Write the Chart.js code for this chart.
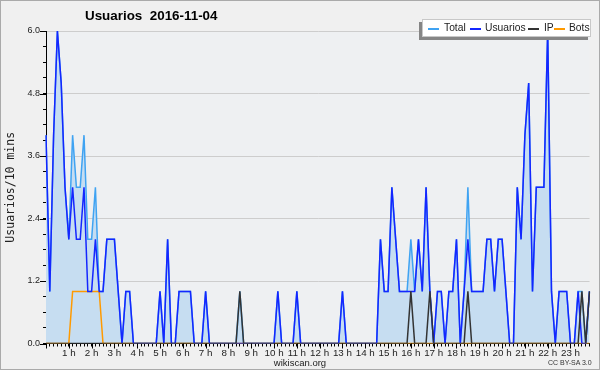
<!DOCTYPE html>
<html><head><meta charset="utf-8">
<script src="https://cdn.jsdelivr.net/npm/chart.js@4.4.0/dist/chart.umd.min.js"></script>
<style>
html,body{margin:0;padding:0;background:#f0f0f0;}
#wrap{position:relative;width:600px;height:370px;overflow:hidden;background:#f0f0f0;}
#frame{position:absolute;left:0;top:0;width:600px;height:370px;box-sizing:border-box;border:1px solid #aaaaaa;pointer-events:none;}
#title{position:absolute;left:85px;top:8px;font:bold 13.4px "Liberation Sans",Arial,sans-serif;white-space:pre;color:#000;}
#legend{position:absolute;left:422px;top:19px;width:167px;height:16px;background:#fff;border:1px solid #c8c8c8;box-shadow:-3px 3px 0 #858585;font:10.3px "Liberation Sans",Arial,sans-serif;color:#222;}
#legend .ln{position:absolute;top:8px;height:1.5px;width:11px;}
#legend .tx{position:absolute;top:1px;line-height:14px;}
#foot{position:absolute;left:0;width:600px;top:357px;text-align:center;font:9.5px "Liberation Sans",Arial,sans-serif;color:#222;}
#cc{position:absolute;left:548px;top:359px;font:7px "Liberation Sans",Arial,sans-serif;color:#333;}
</style>
</head><body>
<div id="wrap">
<canvas id="c" width="600" height="370"></canvas>
<div id="title">Usuarios  2016-11-04</div>
<div id="legend"></div>
<div id="foot">wikiscan.org</div>
<div id="cc">CC BY-SA 3.0</div>
<div id="frame"></div>
</div>
<script>
// 10-minute slots for 2016-11-04 (144 values per series)
const usuarios = [
 4,1,4,6,5,3,2,3,2,2, 3,1,1,2,1,1,2,2,2,1, 0,1,1,0,0,0,0,0,0,0,
 1,0,2,0,0,1,1,1,1,0, 0,0,1,0,0,0,0,0,0,0, 0,0,0,0,0,0,0,0,0,0,
 0,1,0,0,0,0,1,0,0,0, 0,0,0,0,0,0,0,0,1,0, 0,0,0,0,0,0,0,0,2,1,
 1,3,2,1,1,1,1,1,2,1, 3,1,0,1,1,0,1,1,2,0, 1,2,1,1,1,1,2,2,1,2,
 2,1,0,0,3,2,4,5,1,3, 3,3,6,1,0,1,1,1,0,0, 1,0,0,1
];
const total = [
 4,1,4,6,5,3,2,4,3,3, 4,2,2,3,1,1,2,2,2,1, 0,1,1,0,0,0,0,0,0,0,
 1,0,2,0,0,1,1,1,1,0, 0,0,1,0,0,0,0,0,0,0, 0,1,0,0,0,0,0,0,0,0,
 0,1,0,0,0,0,1,0,0,0, 0,0,0,0,0,0,0,0,1,0, 0,0,0,0,0,0,0,0,2,1,
 1,3,2,1,1,1,2,1,2,1, 3,1,0,1,1,0,1,1,2,0, 1,3,1,1,1,1,2,2,1,2,
 2,1,0,0,3,2,4,5,1,3, 3,3,6,1,0,1,1,1,0,0, 1,1,0,1
];
const ip = [
 0,0,0,0,0,0,0,0,0,0, 0,0,0,0,0,0,0,0,0,0, 0,0,0,0,0,0,0,0,0,0,
 0,0,0,0,0,0,0,0,0,0, 0,0,0,0,0,0,0,0,0,0, 0,1,0,0,0,0,0,0,0,0,
 0,0,0,0,0,0,0,0,0,0, 0,0,0,0,0,0,0,0,0,0, 0,0,0,0,0,0,0,0,0,0,
 0,0,0,0,0,0,1,0,0,0, 0,1,0,0,0,0,0,0,0,0, 0,1,0,0,0,0,0,0,0,0,
 0,0,0,0,0,0,0,0,0,0, 0,0,0,0,0,0,0,0,0,0, 0,1,0,1
];
const bots = [
 0,0,0,0,0,0,0,1,1,1, 1,1,1,1,1,0,0,0,0,0, 0,0,0,0,0,0,0,0,0,0,
 0,0,0,0,0,0,0,0,0,0, 0,0,0,0,0,0,0,0,0,0, 0,0,0,0,0,0,0,0,0,0,
 0,0,0,0,0,0,0,0,0,0, 0,0,0,0,0,0,0,0,0,0, 0,0,0,0,0,0,0,0,0,0,
 0,0,0,0,0,0,0,0,0,0, 0,0,0,0,0,0,0,0,0,0, 0,0,0,0,0,0,0,0,0,0,
 0,0,0,0,0,0,0,0,0,0, 0,0,0,0,0,0,0,0,0,0, 0,0,0,0
];
const hourTickLabels = ['1 h','2 h','3 h','4 h','5 h','6 h','7 h','8 h','9 h','10 h','11 h','12 h',
  '13 h','14 h','15 h','16 h','17 h','18 h','19 h','20 h','21 h','22 h','23 h'];
const yMajorTicks = [0, 1.2, 2.4, 3.6, 4.8, 6.0];
const seriesNames = ['Total','Usuarios','IP','Bots'];
const seriesColors = ['#3fa3f2','#1426ff','#333333','#ff9a00'];

// slot categories (00:00 ... 23:50)
const slots = usuarios.map((_, i) => String(Math.floor(i/6)).padStart(2,'0') + ':' + String((i%6)*10).padStart(2,'0'));

// legend (HTML)
const legendPos = [[5,21],[47,62],[105,121],[131,146]];
const lg = document.getElementById('legend');
seriesNames.forEach((n, k) => {
  const l = document.createElement('div'); l.className='ln'; l.style.left=legendPos[k][0]+'px'; l.style.background=seriesColors[k]; lg.appendChild(l);
  const t = document.createElement('div'); t.className='tx'; t.style.left=legendPos[k][1]+'px'; t.textContent=n; lg.appendChild(t);
});

const isMajorY = v => Math.round(v*10) % 12 === 0;

const bgPlugin = {
  id:'plotBg',
  beforeDraw(chart){
    const {ctx, chartArea:a} = chart;
    ctx.save(); ctx.fillStyle='#eef0f2'; ctx.fillRect(a.left, a.top, a.right-a.left, a.bottom-a.top); ctx.restore();
  }
};
const tickPlugin = {
  id:'majorTicks',
  afterDraw(chart){
    const ctx = chart.ctx, xs = chart.scales.x, ys = chart.scales.y;
    ctx.save(); ctx.strokeStyle='#000'; ctx.lineWidth=1; ctx.beginPath();
    for (let i = 0; i < slots.length; i += 6) {
      const px = Math.round(xs.getPixelForValue(i)) + 0.5;
      ctx.moveTo(px, xs.top); ctx.lineTo(px, xs.top + 5);
    }
    yMajorTicks.forEach(v => {
      const py = Math.round(ys.getPixelForValue(v)) + 0.5;
      ctx.moveTo(ys.right - 6, py); ctx.lineTo(ys.right, py);
    });
    ctx.stroke(); ctx.restore();
  }
};

const mk = (k, data, order, extra) => Object.assign({
  label: seriesNames[k], data, borderColor: seriesColors[k], borderWidth: 1.5,
  pointRadius: 0, tension: 0, fill: false, order
}, extra || {});

new Chart(document.getElementById('c'), {
  type: 'line',
  data: {
    labels: slots,
    datasets: [
      mk(0, total, 3, {fill:'origin', backgroundColor:'#c6ddf1'}),
      mk(1, usuarios, 1),
      mk(2, ip, 0),
      mk(3, bots, 2)
    ]
  },
  options: {
    responsive: false, animation: false, devicePixelRatio: 1,
    layout: {padding: {top: 31, right: 10.5, left: 0, bottom: 0}},
    plugins: {legend: {display: false}, title: {display: false}, tooltip: {enabled: false}},
    scales: {
      x: {
        type: 'category', offset: false, z: 1,
        grid: {drawOnChartArea: false, tickLength: 3, tickColor: '#000', offset: false},
        border: {color: '#000', width: 1},
        ticks: {autoSkip: false, maxRotation: 0, minRotation: 0, padding: 1,
          font: {family: 'Liberation Sans', size: 9.8}, color: '#222',
          callback: (v, i) => (i % 6 === 0 && i > 0) ? hourTickLabels[i/6 - 1] : ''},
        afterFit(s){ s.height = 26.5; }
      },
      y: {
        min: 0, max: 6, z: 1,
        grid: {color: c => (c.tick && isMajorY(c.tick.value)) ? '#cdcdcd' : 'rgba(0,0,0,0)', tickLength: 3, tickColor: '#000'},
        border: {color: '#000', width: 1},
        ticks: {stepSize: 0.3, maxTicksLimit: 30, autoSkip: false, padding: 3,
          font: {family: 'Liberation Sans', size: 9}, color: '#222',
          callback: v => isMajorY(v) ? v.toFixed(1) : ''},
        title: {display: true, text: 'Usuarios/10 mins', font: {family: 'DejaVu Sans Mono', size: 11.5}, color: '#222', padding: {top: 4, bottom: 0}},
        afterFit(s){ s.width = 46; }
      }
    }
  },
  plugins: [bgPlugin, tickPlugin]
});
</script>
</body></html>
